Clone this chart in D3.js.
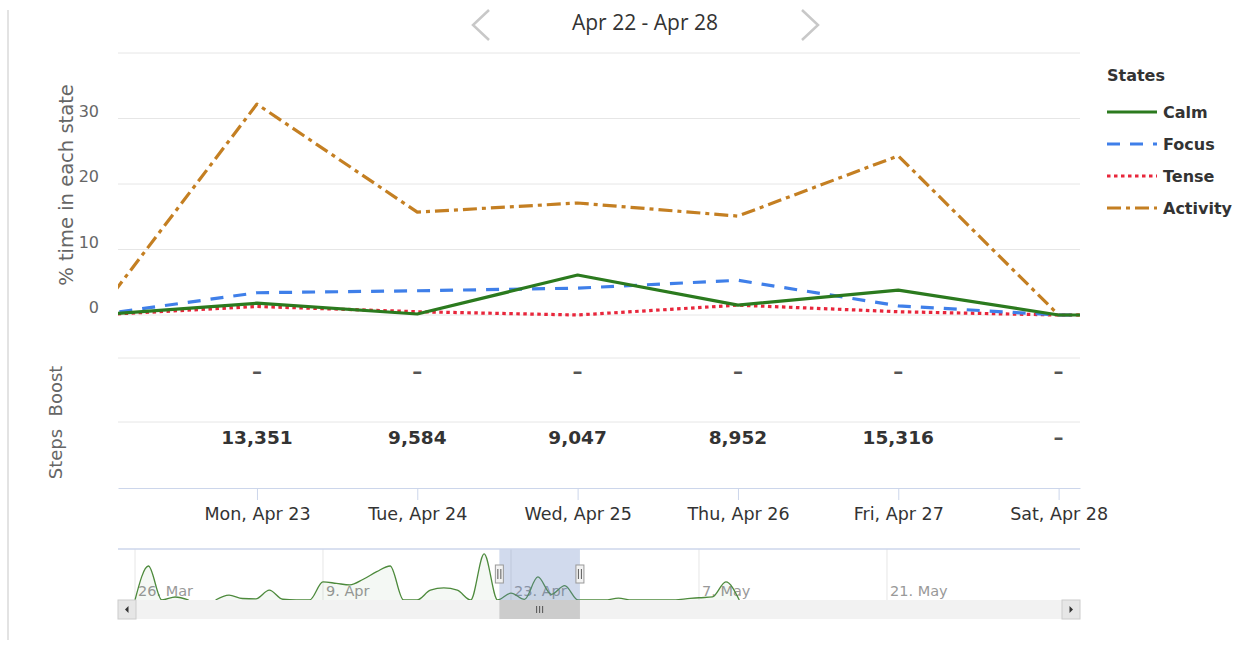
<!DOCTYPE html>
<html>
<head>
<meta charset="utf-8">
<script src="https://cdn.jsdelivr.net/npm/d3@7"></script>
<style>
  body { margin: 0; background: #fff; }
  .chart text { font-family: "DejaVu Sans", sans-serif; }
</style>
</head>
<body>
<div class="chart"></div>
<script>
// week shown in the main chart (Apr 22 and Apr 29 sit just outside the visible range)
const days = ["2018-04-22", "2018-04-23", "2018-04-24", "2018-04-25", "2018-04-26", "2018-04-27", "2018-04-28", "2018-04-29"];
const calm = [0, 1.8, 0.15, 6.1, 1.5, 3.8, 0, 0];
const focus = [0, 3.4, 3.7, 4.1, 5.3, 1.4, 0, 0];
const tense = [0, 1.3, 0.5, 0, 1.5, 0.5, 0, 0];
const activity = [0, 32.2, 15.7, 17.1, 15.1, 24.3, 0, 0];
const yTicks = [0, 10, 20, 30, 40];

// rows under the chart, Mon..Sat
const rowDays = ["2018-04-23", "2018-04-24", "2018-04-25", "2018-04-26", "2018-04-27", "2018-04-28"];
const boost = [null, null, null, null, null, null];
const steps = [13351, 9584, 9047, 8952, 15316, null];

// navigator series (Calm per day, from Mar 26)
const navStart = "2018-03-26";
const navCalm = [0, 9.0, 0, 0.8, 0, null, 0, 1.3, 0.4, 0.3, 2.6, 0.2, 0, 0, 4.8, 4.4, 4.0, 5.5, 7.5, 9.0,
  0, 0, 2.6, 3.2, 2.6, 0, 12.2, 0, 1.8, 0.15, 6.1, 1.5, 3.8, 0, 0, 0, 0.5, 0, 0, 0, 0, 0.3, 0.6, 0.8, 4.8, 0];
const navTicks = ["2018-03-26", "2018-04-09", "2018-04-23", "2018-05-07", "2018-05-21"];

const width = 1244, height = 645;
const left = 118, right = 1080;
const parse = d3.timeParse("%Y-%m-%d");
const hour = 3600 * 1000;

const series = [
  { name: "Calm", values: calm, color: "#2b7a1e", dash: null, w: 3.2 },
  { name: "Focus", values: focus, color: "#3f7fe9", dash: "13,10", w: 3.2 },
  { name: "Tense", values: tense, color: "#e8263b", dash: "3.5,3.5", w: 3.2 },
  { name: "Activity", values: activity, color: "#c47f22", dash: "14,5,4,5", w: 3.2 }
];

const svg = d3.select(".chart").append("svg")
  .attr("width", width).attr("height", height)
  .style("display", "block");

// left border
svg.append("line").attr("x1", 8).attr("x2", 8).attr("y1", 10).attr("y2", 640)
  .attr("stroke", "#e3e3e3").attr("stroke-width", 2);

// title + arrows
svg.append("text").attr("x", 645).attr("y", 30).attr("text-anchor", "middle")
  .style("font-family", "'Open Sans', sans-serif").style("font-size", "21px").attr("fill", "#333")
  .text("Apr 22 - Apr 28");
svg.append("path").attr("d", "M489,10 L473,25 L489,40").attr("fill", "none")
  .attr("stroke", "#c8c8c8").attr("stroke-width", 2.5);
svg.append("path").attr("d", "M802,10 L818,25 L802,40").attr("fill", "none")
  .attr("stroke", "#c8c8c8").attr("stroke-width", 2.5);

const t0 = new Date(parse(days[0]).getTime() + 3.2 * hour);
const t1 = new Date(parse(days[6]).getTime() + 3.2 * hour);
const x = d3.scaleTime().domain([t0, t1]).range([left, right]);
const y = d3.scaleLinear().domain([0, 40]).range([315, 53]);

// gridlines + y labels
svg.append("g").selectAll("line").data(yTicks).enter().append("line")
  .attr("x1", left).attr("x2", right)
  .attr("y1", d => y(d)).attr("y2", d => y(d))
  .attr("stroke", "#e6e6e6").attr("stroke-width", 1);
svg.append("g").selectAll("text").data(yTicks.filter(d => d < 40)).enter().append("text")
  .attr("x", 99).attr("y", d => y(d) - 2).attr("text-anchor", "end")
  .style("font-size", "16px").attr("fill", "#666").text(d => d);

svg.append("text").attr("transform", "translate(73,185) rotate(-90)")
  .attr("text-anchor", "middle").style("font-size", "19.5px").attr("fill", "#666")
  .text("% time in each state");

// lines
svg.append("clipPath").attr("id", "plot").append("rect")
  .attr("x", left).attr("y", 40).attr("width", right - left).attr("height", 280);

const line = d3.line().x((d, i) => x(parse(days[i]))).y(d => y(d));
const plot = svg.append("g").attr("clip-path", "url(#plot)");
[...series].reverse().forEach(s => {
  plot.append("path").datum(s.values).attr("d", line)
    .attr("fill", "none").attr("stroke", s.color).attr("stroke-width", s.w)
    .attr("stroke-dasharray", s.dash).attr("stroke-linejoin", "round");
});

// legend
svg.append("text").attr("x", 1107).attr("y", 81).style("font-size", "16px")
  .style("font-weight", "bold").attr("fill", "#333").text("States");
series.forEach((s, i) => {
  const ly = 112 + i * 32;
  svg.append("line").attr("x1", 1107).attr("x2", 1157).attr("y1", ly).attr("y2", ly)
    .attr("stroke", s.color).attr("stroke-width", s.w).attr("stroke-dasharray", s.dash);
  svg.append("text").attr("x", 1163).attr("y", ly + 6).style("font-size", "16px")
    .style("font-weight", "bold").attr("fill", "#333").text(s.name);
});

// Boost / Steps rows
[358, 422].forEach(v => svg.append("line").attr("x1", left).attr("x2", right)
  .attr("y1", v).attr("y2", v).attr("stroke", "#e6e6e6"));
svg.append("text").attr("transform", "translate(62,391) rotate(-90)").attr("text-anchor", "middle")
  .style("font-size", "18px").attr("fill", "#666").text("Boost");
svg.append("text").attr("transform", "translate(62,454) rotate(-90)").attr("text-anchor", "middle")
  .style("font-size", "18px").attr("fill", "#666").text("Steps");

const fmt = d3.format(",");
svg.append("g").selectAll("text").data(boost).enter().append("text")
  .attr("x", (d, i) => x(parse(rowDays[i]))).attr("y", 378).attr("text-anchor", "middle")
  .style("font-size", "20px").style("font-weight", "bold").attr("fill", "#555")
  .text(d => d == null ? "–" : fmt(d));
svg.append("g").selectAll("text").data(steps).enter().append("text")
  .attr("x", (d, i) => x(parse(rowDays[i]))).attr("y", 444).attr("text-anchor", "middle")
  .style("font-size", d => d == null ? "20px" : "18.5px")
  .style("font-weight", "bold")
  .attr("fill", d => d == null ? "#555" : "#333").text(d => d == null ? "–" : fmt(d));

// x axis
const xAxis = svg.append("g").attr("transform", "translate(0,488)")
  .call(d3.axisBottom(x).tickValues(rowDays.map(parse)).tickFormat(d3.timeFormat("%a, %b %d"))
    .tickSizeInner(12).tickSizeOuter(0).tickPadding(8));
xAxis.select(".domain").attr("stroke", "#ccd6eb");
xAxis.selectAll(".tick line").attr("stroke", "#ccd6eb");
xAxis.selectAll("text").style("font-size", "17.5px").attr("fill", "#333")
  .style("font-family", "'DejaVu Sans', sans-serif");

// navigator
const navTop = 549, navBottom = 600;
const n0 = parse(navStart);
const navDate = i => d3.timeDay.offset(n0, i);
const xn = d3.scaleTime()
  .domain([new Date(n0.getTime() - 30.4 * hour), new Date(parse("2018-05-21").getTime() + 345 * hour)])
  .range([left, right]);
const yn = d3.scaleLinear().domain([0, 13.5]).range([navBottom, navTop]);

svg.append("g").selectAll("line").data(navTicks).enter().append("line")
  .attr("x1", d => xn(parse(d))).attr("x2", d => xn(parse(d)))
  .attr("y1", navTop).attr("y2", navBottom).attr("stroke", "#e6e6e6");
svg.append("g").selectAll("text").data(navTicks).enter().append("text")
  .attr("x", d => xn(parse(d)) + 3).attr("y", 596)
  .style("font-size", "14.5px").attr("fill", "#999").text(d => d3.timeFormat("%-d. %b")(parse(d)));

const navArea = d3.area().defined(d => d != null).curve(d3.curveMonotoneX)
  .x((d, i) => xn(navDate(i))).y0(navBottom).y1(d => yn(d));
const navLine = d3.line().defined(d => d != null).curve(d3.curveMonotoneX)
  .x((d, i) => xn(navDate(i))).y(d => yn(d));
svg.append("path").datum(navCalm).attr("d", navArea).attr("fill", "#2b7a1e").attr("fill-opacity", 0.05);
svg.append("path").datum(navCalm).attr("d", navLine).attr("fill", "none")
  .attr("stroke", "#4d8a3c").attr("stroke-width", 1.3);

const sx0 = xn(t0), sx1 = xn(t1);
svg.append("rect").attr("x", sx0).attr("y", navTop).attr("width", sx1 - sx0)
  .attr("height", navBottom - navTop).attr("fill", "#6685c2").attr("fill-opacity", 0.3);
svg.append("line").attr("x1", left).attr("x2", right).attr("y1", navTop).attr("y2", navTop)
  .attr("stroke", "#ccd6eb").attr("stroke-width", 1.5);

// handles
[sx0, sx1].forEach(hx => {
  svg.append("rect").attr("x", hx - 4).attr("y", 565).attr("width", 8).attr("height", 18)
    .attr("fill", "#f2f2f2").attr("stroke", "#999");
  [-1.5, 1.5].forEach(o => svg.append("line").attr("x1", hx + o).attr("x2", hx + o)
    .attr("y1", 569).attr("y2", 579).attr("stroke", "#333").attr("stroke-width", 0.8));
});

// scrollbar
svg.append("rect").attr("x", left).attr("y", 600).attr("width", right - left).attr("height", 19)
  .attr("fill", "#f2f2f2");
svg.append("rect").attr("x", sx0).attr("y", 600).attr("width", sx1 - sx0).attr("height", 19)
  .attr("fill", "#cccccc");
[-3, 0, 3].forEach(o => svg.append("line").attr("x1", (sx0 + sx1) / 2 + o).attr("x2", (sx0 + sx1) / 2 + o)
  .attr("y1", 606).attr("y2", 613).attr("stroke", "#333").attr("stroke-width", 0.8));
[[left, -1], [right - 18, 1]].forEach(([bx, dir]) => {
  svg.append("rect").attr("x", bx).attr("y", 600).attr("width", 18).attr("height", 19)
    .attr("fill", "#e6e6e6").attr("stroke", "#cccccc");
  const cx = bx + 9;
  svg.append("path").attr("d", dir < 0
    ? `M${cx + 1.5},606 L${cx - 2},609.5 L${cx + 1.5},613 Z`
    : `M${cx - 1.5},606 L${cx + 2},609.5 L${cx - 1.5},613 Z`).attr("fill", "#333");
});
</script>
</body>
</html>
